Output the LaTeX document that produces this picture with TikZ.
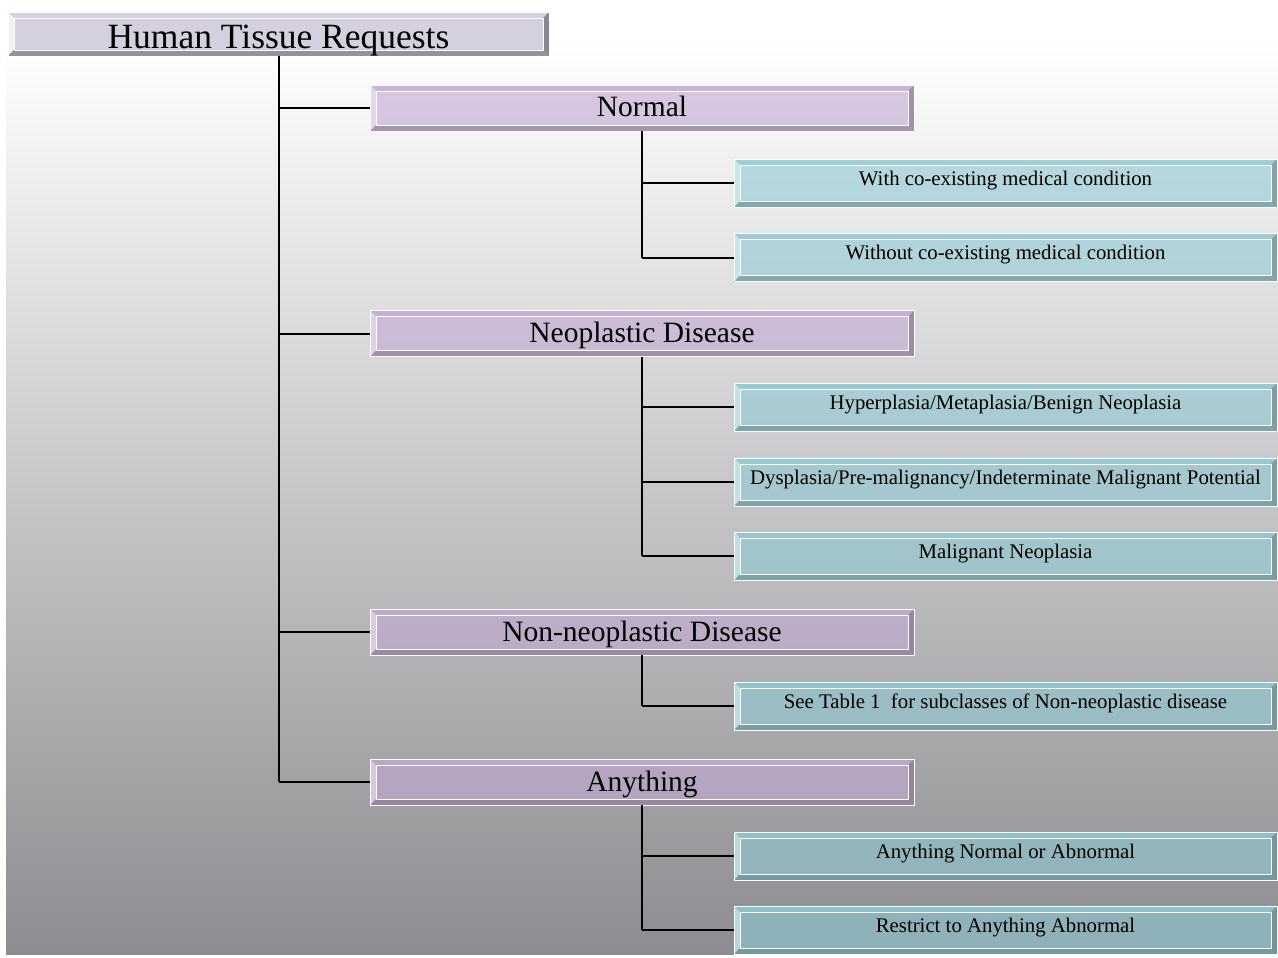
\documentclass[tikz,border=0pt]{standalone}
\usepackage{fontspec}
\setmainfont{Liberation Serif}
\usetikzlibrary{calc}
\pgfdeclarelayer{background}
\pgfsetlayers{background,main}
\definecolor{purp}{RGB}{193,167,210}
\definecolor{tealc}{RGB}{143,200,210}
\definecolor{titlec}{RGB}{212,208,224}
\definecolor{bgbot}{RGB}{141,141,145}
\tikzset{
 boxbase/.style={inner sep=0pt, outer sep=0pt, text=black},
 titlebox/.style={boxbase, minimum width=541pt, minimum height=44pt, text height=37pt, text depth=7pt, font=\fontsize{35.5}{38}\selectfont},
 lonebox/.style={boxbase, minimum width=544pt, minimum height=46pt, text height=30pt, text depth=12pt, font=\fontsize{29.5}{32}\selectfont},
 ltwobox/.style={boxbase, minimum width=543pt, minimum height=48pt, text height=17pt, text depth=13pt, font=\fontsize{20.8}{23}\selectfont},
 conn/.style={draw=black, line width=2pt},
}
\newcommand\bevel[3]{%
 \begin{pgfonlayer}{background}
 \fill[#2, fill opacity=#3] (#1.north west) rectangle (#1.south east);
 \fill[#2, fill opacity=#3] (#1.north west) -- (#1.north east) -- ($(#1.north east)+(-6pt,-6pt)$) -- ($(#1.north west)+(6pt,-6pt)$) -- cycle;
 \fill[#2!30!white, fill opacity=#3] (#1.north west) -- ($(#1.north west)+(6pt,-6pt)$) -- ($(#1.south west)+(6pt,6pt)$) -- (#1.south west) -- cycle;
 \fill[#2!70!black, fill opacity=#3] (#1.south west) -- ($(#1.south west)+(6pt,6pt)$) -- ($(#1.south east)+(-6pt,6pt)$) -- (#1.south east) -- cycle;
 \fill[#2!65!black, fill opacity=#3] (#1.north east) -- (#1.south east) -- ($(#1.south east)+(-6pt,6pt)$) -- ($(#1.north east)+(-6pt,-6pt)$) -- cycle;
 \draw[white, line width=0.9pt] (#1.north west) rectangle (#1.south east);
 \draw[white, line width=0.9pt] ($(#1.north west)+(6pt,-6pt)$) rectangle ($(#1.south east)+(-6pt,6pt)$);
 \end{pgfonlayer}
}
\begin{document}
\begin{tikzpicture}[x=1pt,y=-1pt]
\useasboundingbox (0,0) rectangle (1278,958);
\begin{pgfonlayer}{background}
\fill[white] (0,0) rectangle (1278,958);
\shade[top color=white, bottom color=bgbot] (6,40) rectangle (1278,954);
\end{pgfonlayer}

% title
\node[titlebox] (title) at (278.5,34) {Human Tissue Requests};
\bevel{title}{titlec}{1}

% level 1
\node[lonebox] (normal) at (642,108) {Normal};
\node[lonebox] (neo) at (642,333.5) {Neoplastic Disease};
\node[lonebox] (non) at (642,632) {Non-neoplastic Disease};
\node[lonebox] (any) at (642,782) {Anything};
\foreach \n in {normal,neo,non,any}{\bevel{\n}{purp}{0.6}}

% level 2
\node[ltwobox] (with) at (1005.5,183) {With co-existing medical condition};
\node[ltwobox] (without) at (1005.5,257.5) {Without co-existing medical condition};
\node[ltwobox] (hyper) at (1005.5,407) {Hyperplasia/Metaplasia/Benign Neoplasia};
\node[ltwobox] (dys) at (1005.5,482) {Dysplasia/Pre-malignancy/Indeterminate Malignant Potential};
\node[ltwobox] (malig) at (1005.5,556) {Malignant Neoplasia};
\node[ltwobox] (table) at (1005.5,706) {See Table 1\ \ for subclasses of Non-neoplastic disease};
\node[ltwobox] (anyna) at (1005.5,856) {Anything Normal or Abnormal};
\node[ltwobox] (restrict) at (1005.5,930) {Restrict to Anything Abnormal};
\foreach \n in {with,without,hyper,dys,malig,table,anyna,restrict}{\bevel{\n}{tealc}{0.6}}

% connectors
\draw[conn] (title.south) -- (title.south |- any.west);
\foreach \n in {normal,neo,non,any}{\draw[conn] (title.south |- \n.west) -- (\n.west);}
\draw[conn] (normal.south) -- (normal.south |- without.west);
\foreach \n in {with,without}{\draw[conn] (normal.south |- \n.west) -- (\n.west);}
\draw[conn] (neo.south) -- (neo.south |- malig.west);
\foreach \n in {hyper,dys,malig}{\draw[conn] (neo.south |- \n.west) -- (\n.west);}
\draw[conn] (non.south) -- (non.south |- table.west);
\draw[conn] (non.south |- table.west) -- (table.west);
\draw[conn] (any.south) -- (any.south |- restrict.west);
\foreach \n in {anyna,restrict}{\draw[conn] (any.south |- \n.west) -- (\n.west);}
\end{tikzpicture}
\end{document}
